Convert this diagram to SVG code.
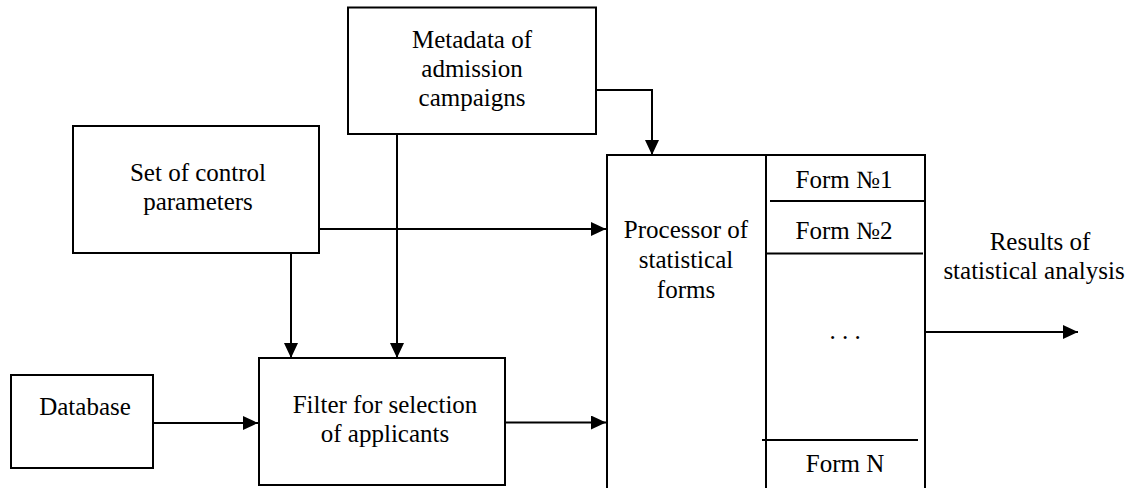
<svg xmlns="http://www.w3.org/2000/svg" width="1140" height="488" viewBox="0 0 1140 488" font-family="'Liberation Serif', 'Times New Roman', Tinos, 'DejaVu Serif', serif">
<style>
.box{fill:#fff;stroke:#000;stroke-width:2}
.ln{fill:none;stroke:#000;stroke-width:2}
.t{font-family:'Liberation Serif', 'Times New Roman', Tinos, 'DejaVu Serif', serif;font-size:25px;fill:#000;text-anchor:middle}
</style>
<defs>
<marker id="ah" markerUnits="userSpaceOnUse" markerWidth="15" markerHeight="14" refX="15" refY="7" orient="auto">
<path d="M0,0 L15,7 L0,14 z" fill="#000"/>
</marker>
</defs>
<rect width="1140" height="488" fill="#fff"/>
<g id="metadata">
<rect class="box" x="348" y="7.5" width="248" height="126.5"/>
<text class="t" x="472" y="48">Metadata of</text>
<text class="t" x="472" y="77">admission</text>
<text class="t" x="472" y="106">campaigns</text>
</g>
<g id="control">
<rect class="box" x="73" y="126" width="246" height="127"/>
<text class="t" x="198" y="181">Set of control</text>
<text class="t" x="198" y="210">parameters</text>
</g>
<g id="database">
<rect class="box" x="11" y="375" width="142" height="93"/>
<text class="t" x="85" y="415">Database</text>
</g>
<g id="filter">
<rect class="box" x="259" y="358" width="246" height="127"/>
<text class="t" x="385" y="413">Filter for selection</text>
<text class="t" x="385" y="442">of applicants</text>
</g>
<g id="processor">
<path class="ln" d="M607,492 V155 H925 V492"/>
<line class="ln" x1="766" y1="155" x2="766" y2="492"/>
<line class="ln" x1="770" y1="201" x2="925" y2="201"/>
<line class="ln" x1="766" y1="253.5" x2="923" y2="253.5"/>
<line class="ln" x1="762" y1="440" x2="918" y2="440"/>
<text class="t" x="686" y="238">Processor of</text>
<text class="t" x="686" y="268">statistical</text>
<text class="t" x="686" y="298">forms</text>
<text class="t" x="844" y="188">Form №1</text>
<text class="t" x="844" y="239">Form №2</text>
<text class="t" x="845" y="339">. . .</text>
<text class="t" x="845" y="472">Form N</text>
</g>
<g id="results">
<text class="t" x="1040" y="250">Results of</text>
<text class="t" x="1034" y="279">statistical analysis</text>
</g>
<g id="connectors">
<path class="ln" d="M596,90 H652 V155" marker-end="url(#ah)"/>
<line class="ln" x1="397" y1="134" x2="397" y2="358" marker-end="url(#ah)"/>
<line class="ln" x1="319" y1="229" x2="606" y2="229" marker-end="url(#ah)"/>
<line class="ln" x1="291" y1="253" x2="291" y2="358" marker-end="url(#ah)"/>
<line class="ln" x1="153" y1="423" x2="258" y2="423" marker-end="url(#ah)"/>
<line class="ln" x1="505" y1="422.5" x2="606" y2="422.5" marker-end="url(#ah)"/>
<line class="ln" x1="925" y1="332" x2="1078" y2="332" marker-end="url(#ah)"/>
</g>
</svg>
